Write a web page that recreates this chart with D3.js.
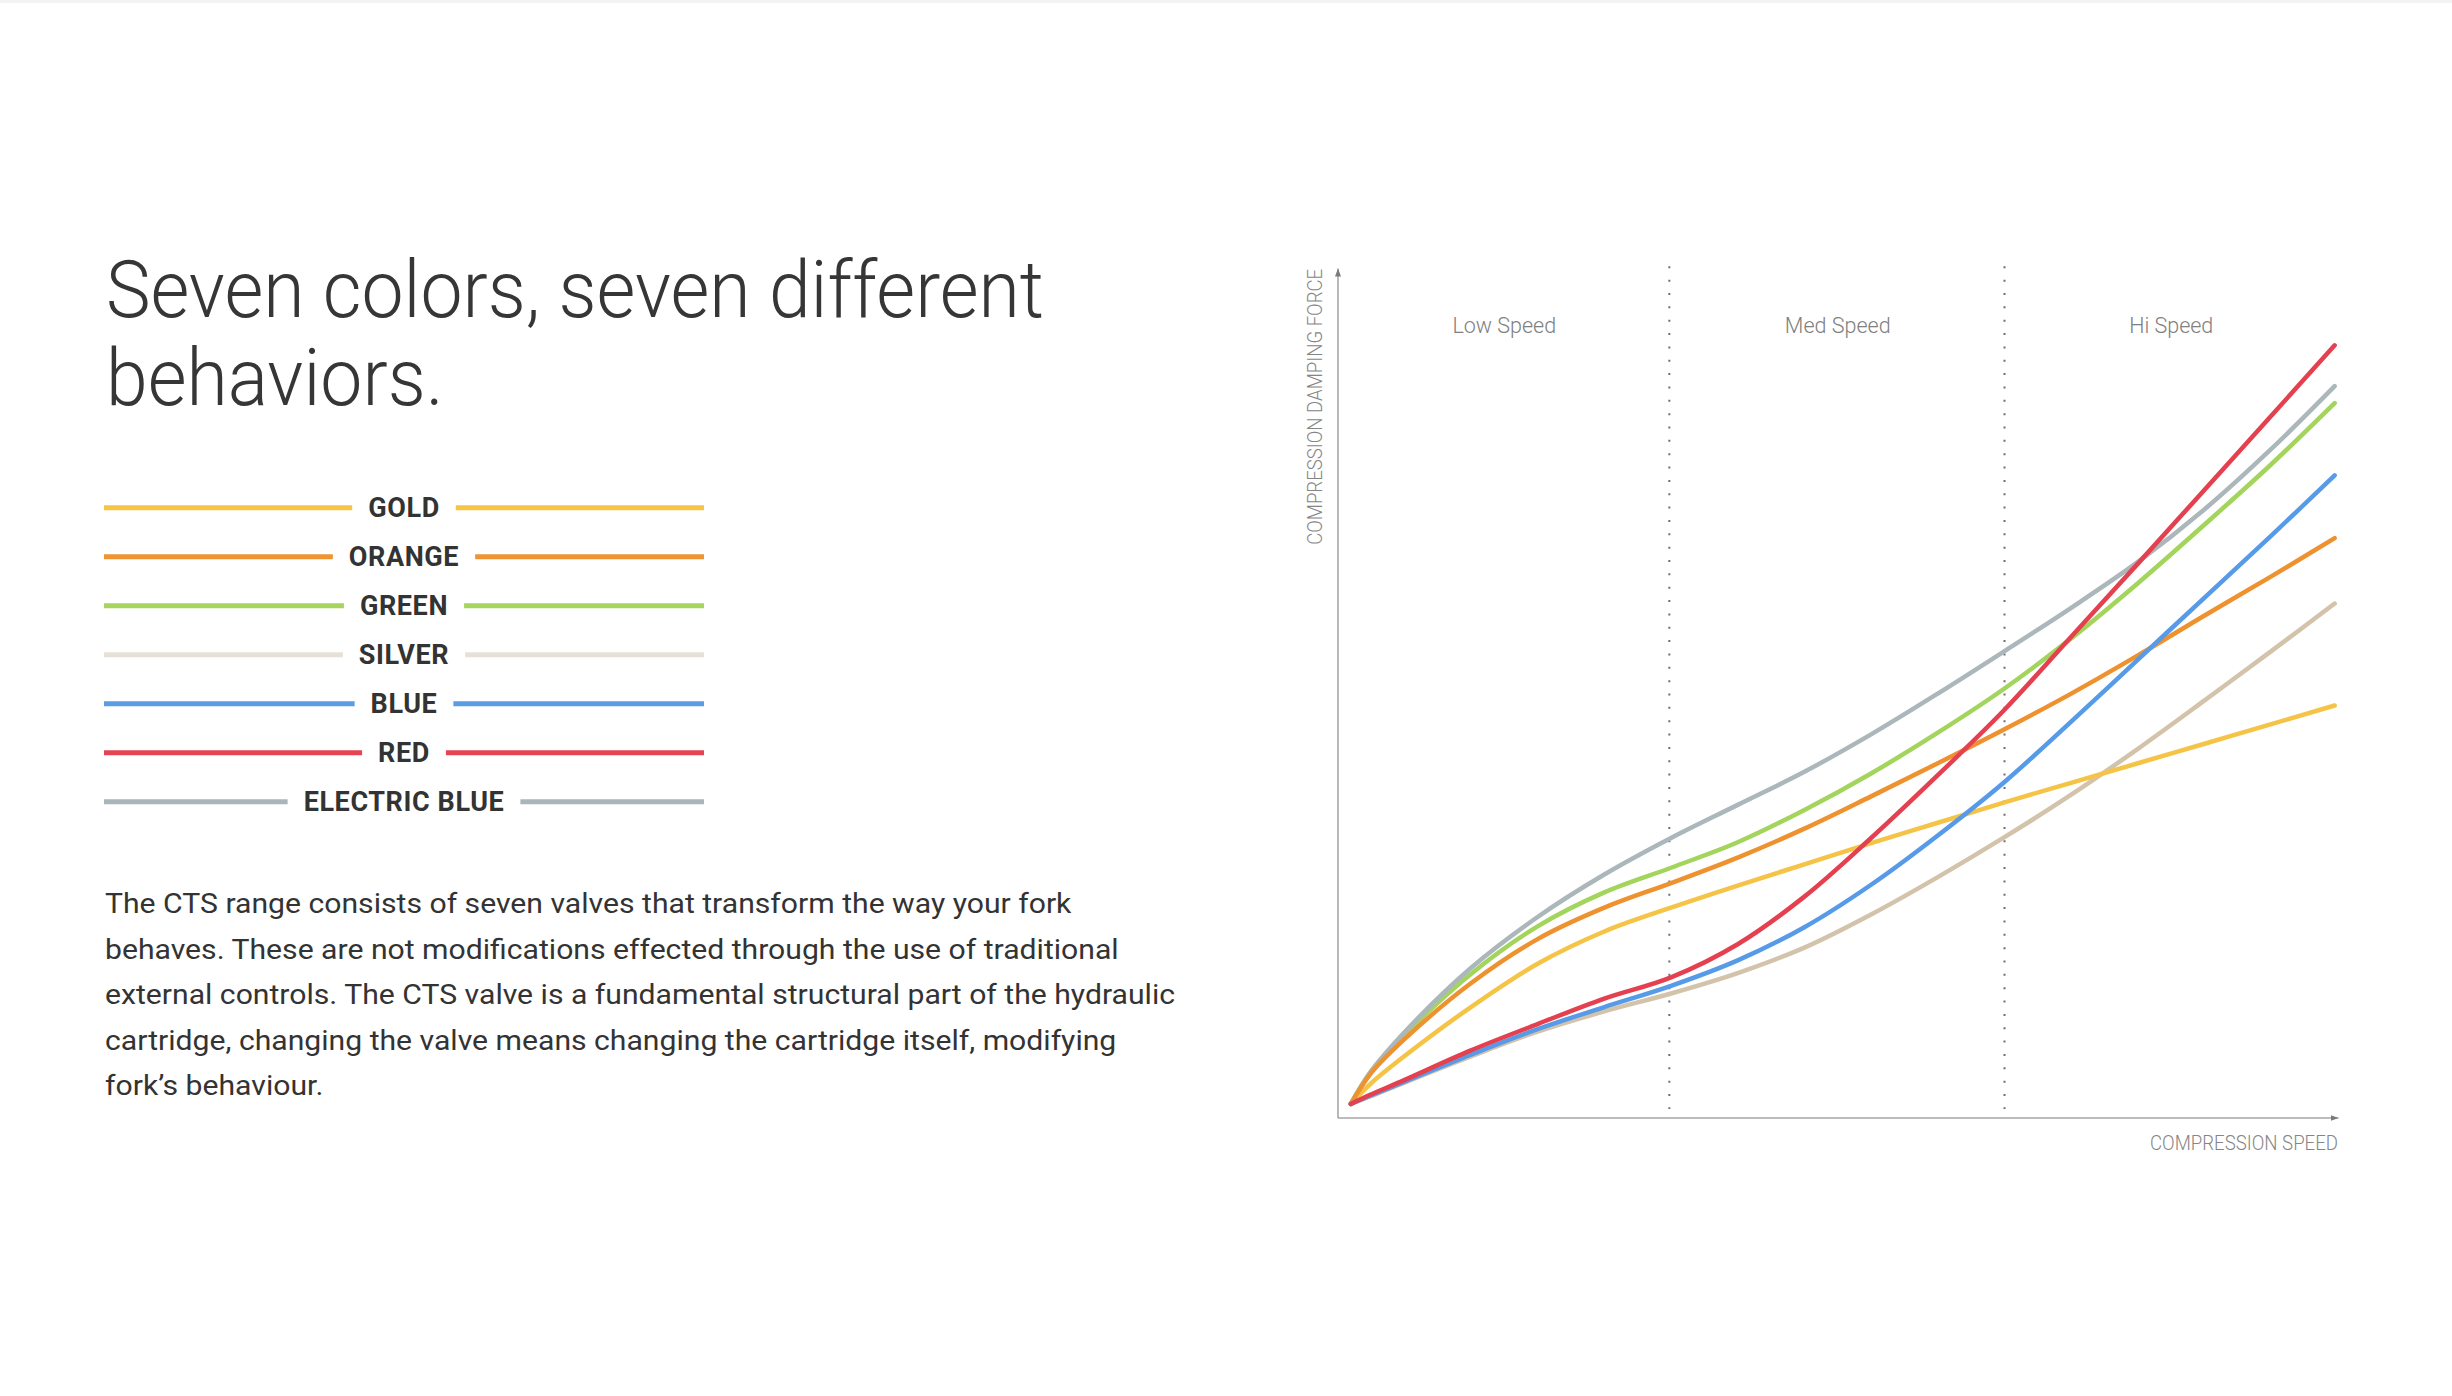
<!DOCTYPE html>
<html>
<head>
<meta charset="utf-8">
<script src="https://d3js.org/d3.v7.min.js"></script>
<style>
  body { margin: 0; background: #fff; }
  text { font-family: Roboto, "Open Sans", sans-serif; }
</style>
</head>
<body>
<div id="chart"></div>
<script>
// Page size
var svgWidth = 2452;
var svgHeight = 1396;

// Text content
var titleLines = ["Seven colors, seven different", "behaviors."];
var bodyLines = [
  "The CTS range consists of seven valves that transform the way your fork",
  "behaves. These are not modifications effected through the use of traditional",
  "external controls. The CTS valve is a fundamental structural part of the hydraulic",
  "cartridge, changing the valve means changing the cartridge itself, modifying",
  "fork\u2019s behaviour."
];
var zoneNames = ["Low Speed", "Med Speed", "Hi Speed"];
var zoneCenters = [5, 15, 25];
var zoneBounds = [9.95, 20];

// Valves (legend order)
var valveNames = ["GOLD", "ORANGE", "GREEN", "SILVER", "BLUE", "RED", "ELECTRIC BLUE"];
var lineColors = ["#f5c446", "#ee9230", "#a3d45b", "#d3c3ab", "#579be8", "#e4404f", "#abb7ba"];
var legendColors = ["#f6c545", "#ef9433", "#a5d55f", "#e6e0d8", "#5a9de5", "#e64453", "#a8b5b9"];
var drawOrder = ["SILVER", "GOLD", "GREEN", "ELECTRIC BLUE", "ORANGE", "BLUE", "RED"];

// Compression speed (0-30) and damping force (0-100)
var speed        = [0.4, 1, 2, 4, 6, 8, 10, 12, 14, 16, 18, 20, 22, 24, 26, 28, 29.9];
var gold         = [1.6, 4.0, 7.2, 13.0, 18.1, 21.9, 24.7, 27.3, 29.8, 32.3, 34.7, 37.1, 39.4, 41.7, 44.0, 46.3, 48.5];
var orange       = [1.6, 5.2, 9.2, 15.8, 21.0, 24.7, 27.6, 30.6, 34.0, 37.8, 41.7, 45.7, 49.9, 54.4, 59.1, 63.7, 68.2];
var green        = [1.6, 5.4, 9.7, 16.9, 22.5, 26.5, 29.4, 32.4, 36.2, 40.5, 45.3, 50.5, 56.4, 62.9, 69.8, 76.9, 84.1];
var silver       = [1.6, 2.5, 4.1, 7.2, 10.1, 12.5, 14.6, 17.0, 20.0, 23.9, 28.3, 33.0, 38.0, 43.4, 49.1, 54.9, 60.5];
var blue         = [1.6, 2.6, 4.2, 7.4, 10.4, 13.0, 15.5, 18.5, 22.4, 27.4, 33.2, 39.5, 46.6, 53.9, 61.2, 68.5, 75.6];
var red          = [1.6, 2.7, 4.4, 7.9, 11.0, 14.0, 16.5, 20.4, 26.0, 32.9, 40.3, 48.0, 56.6, 65.2, 73.9, 82.6, 90.9];
var electricBlue = [1.6, 5.4, 10.0, 17.6, 23.6, 28.6, 32.9, 36.8, 40.7, 45.1, 49.9, 54.9, 60.0, 65.4, 71.6, 78.7, 86.1];

var forces = [gold, orange, green, silver, blue, red, electricBlue];

var series = valveNames.map(function(name, i) {
  return {
    name: name,
    color: lineColors[i],
    values: speed.map(function(s, j) { return { speed: s, force: forces[i][j] }; })
  };
});
series.sort(function(a, b) { return drawOrder.indexOf(a.name) - drawOrder.indexOf(b.name); });

// Squeeze text horizontally (narrow face substitute)
function squeeze(sel, factor) {
  sel.each(function() {
    var w = this.getComputedTextLength();
    d3.select(this).attr("textLength", w * factor).attr("lengthAdjust", "spacingAndGlyphs");
  });
}

var svg = d3.select("#chart")
  .append("svg")
  .attr("width", svgWidth)
  .attr("height", svgHeight);

svg.append("rect")
  .attr("width", svgWidth)
  .attr("height", 3)
  .attr("fill", "#f3f3f3");

// ---------- left column ----------
var title = svg.append("g");
title.selectAll("text")
  .data(titleLines)
  .enter()
  .append("text")
  .attr("x", 106)
  .attr("y", (d, i) => 316.5 + i * 88.5)
  .attr("font-size", 80)
  .attr("font-weight", 300)
  .attr("fill", "#363636")
  .text(d => d);
var titleFactor = 938 / title.select("text").node().getComputedTextLength();
squeeze(title.selectAll("text"), titleFactor);

// legend
var legendY = d3.scalePoint()
  .domain(valveNames)
  .range([507.7, 801.7]);
var legendLeft = 104, legendRight = 704, legendMid = (legendLeft + legendRight) / 2;

var legend = svg.append("g");
valveNames.forEach(function(name, i) {
  var yy = legendY(name);
  var label = legend.append("text")
    .attr("x", legendMid)
    .attr("y", yy)
    .attr("dy", "0.355em")
    .attr("text-anchor", "middle")
    .attr("font-size", 27)
    .attr("font-weight", 700)
    .attr("letter-spacing", "0.6px")
    .attr("fill", "#333")
    .text(name);
  var half = label.node().getComputedTextLength() / 2 + 16;
  [[legendLeft, legendMid - half], [legendMid + half, legendRight]].forEach(function(seg) {
    legend.append("line")
      .attr("x1", seg[0]).attr("x2", seg[1])
      .attr("y1", yy).attr("y2", yy)
      .attr("stroke", legendColors[i])
      .attr("stroke-width", 5);
  });
});

// paragraph
var body = svg.append("g");
body.selectAll("text")
  .data(bodyLines)
  .enter()
  .append("text")
  .attr("x", 105)
  .attr("y", (d, i) => 913 + i * 45.5)
  .attr("font-size", 28)
  .attr("fill", "#333")
  .text(d => d);
var longest = d3.max(body.selectAll("text").nodes(), n => n.getComputedTextLength());
squeeze(body.selectAll("text"), 1070 / longest);

// ---------- chart ----------
var xScale = d3.scaleLinear().domain([0, 30]).range([1337.5, 2338]);
var yScale = d3.scaleLinear().domain([0, 100]).range([1117.5, 268]);

var defs = svg.append("defs");
defs.append("marker")
  .attr("id", "arrow")
  .attr("viewBox", "0 0 8 6")
  .attr("refX", 8)
  .attr("refY", 3)
  .attr("markerWidth", 8)
  .attr("markerHeight", 6)
  .attr("markerUnits", "userSpaceOnUse")
  .attr("orient", "auto")
  .append("path")
  .attr("d", "M0,0L8,3L0,6Z")
  .attr("fill", "#7a7a7a");

var chartGroup = svg.append("g");

// zone separators
chartGroup.selectAll(".zone")
  .data(zoneBounds)
  .enter()
  .append("line")
  .attr("x1", d => xScale(d))
  .attr("x2", d => xScale(d))
  .attr("y1", yScale(100.2))
  .attr("y2", yScale(1))
  .attr("stroke", "#6e6e6e")
  .attr("stroke-width", 2)
  .attr("stroke-dasharray", "2 11.35");

chartGroup.selectAll(".zoneLabel")
  .data(zoneNames)
  .enter()
  .append("text")
  .attr("x", (d, i) => xScale(zoneCenters[i]))
  .attr("y", 333)
  .attr("text-anchor", "middle")
  .attr("font-size", 21.5)
  .attr("font-weight", 300)
  .attr("fill", "#808080")
  .text(d => d);

// axes
var bottomAxis = d3.axisBottom(xScale).tickValues([]).tickSizeOuter(0);
var leftAxis = d3.axisLeft(yScale).tickValues([]).tickSizeOuter(0);

chartGroup.append("g")
  .attr("transform", `translate(0, ${yScale(0)})`)
  .call(bottomAxis)
  .select(".domain")
  .attr("stroke", "#bcbcbc")
  .attr("stroke-width", 2)
  .attr("marker-end", "url(#arrow)");

chartGroup.append("g")
  .attr("transform", `translate(${xScale(0)}, 0)`)
  .call(leftAxis)
  .select(".domain")
  .attr("stroke", "#8a8a8a")
  .attr("stroke-width", 1.2)
  .attr("marker-end", "url(#arrow)");

chartGroup.append("text")
  .attr("transform", `translate(1322, ${yScale(99.9)}) rotate(-90)`)
  .attr("text-anchor", "end")
  .attr("font-size", 20)
  .attr("font-weight", 300)
  .attr("fill", "#858585")
  .attr("textLength", 276)
  .attr("lengthAdjust", "spacingAndGlyphs")
  .text("COMPRESSION DAMPING FORCE");

chartGroup.append("text")
  .attr("x", xScale(30))
  .attr("y", 1150)
  .attr("text-anchor", "end")
  .attr("font-size", 20)
  .attr("font-weight", 300)
  .attr("fill", "#858585")
  .attr("textLength", 188)
  .attr("lengthAdjust", "spacingAndGlyphs")
  .text("COMPRESSION SPEED");

// curves
var line = d3.line()
  .x(d => xScale(d.speed))
  .y(d => yScale(d.force))
  .curve(d3.curveCatmullRom.alpha(0.5));

chartGroup.selectAll(".valve")
  .data(series)
  .enter()
  .append("path")
  .attr("class", "valve")
  .attr("d", d => line(d.values))
  .attr("fill", "none")
  .attr("stroke", d => d.color)
  .attr("stroke-width", 4.5)
  .attr("stroke-linecap", "round")
  .attr("stroke-linejoin", "round");
</script>
</body>
</html>
